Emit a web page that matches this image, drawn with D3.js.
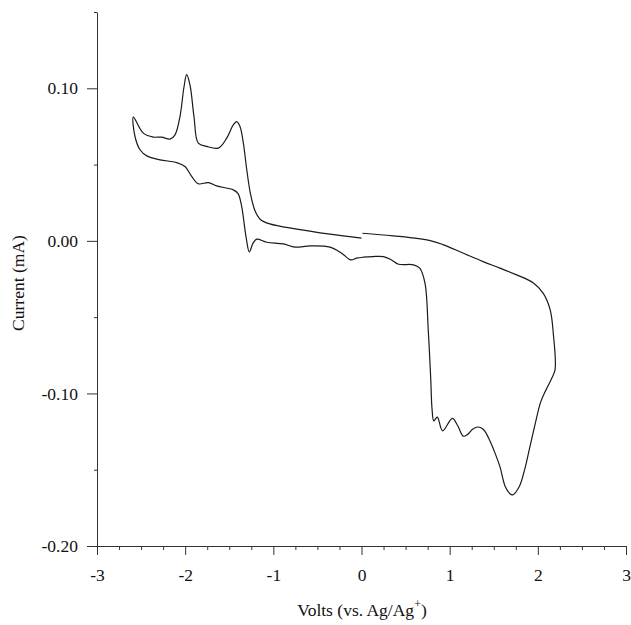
<!DOCTYPE html>
<html>
<head>
<meta charset="utf-8">
<script src="https://cdn.jsdelivr.net/npm/d3@7/dist/d3.min.js"></script>
<style>
  html, body { margin: 0; padding: 0; background: #fff; }
  svg text { font-family: "Liberation Serif", "Times New Roman", serif; fill: #111; }
</style>
</head>
<body>
<div id="chart"></div>
<script>
// scan from 0 V up to +2.2 V
const fwdVolts   = [0.01, 0.36, 0.78, 0.93, 1.15, 1.38, 1.57, 1.76, 1.95, 2.06, 2.14, 2.175, 2.195];
const fwdCurrent = [0.0050, 0.0033, 0.0002, -0.0026, -0.0080, -0.0136, -0.0179, -0.0223, -0.0276, -0.0343, -0.0452, -0.0605, -0.0846];

// reverse scan, +2.2 V down to -2.6 V
const revVolts = [2.195, 2.15, 2.09, 2.03, 1.97, 1.91, 1.85, 1.79, 1.714, 1.68, 1.63, 1.57, 1.50, 1.44, 1.38,
  1.32, 1.26, 1.20, 1.155, 1.09, 1.03, 0.92, 0.86, 0.82, 0.80, 0.785, 0.757, 0.72, 0.66, 0.59, 0.42, 0.34, 0.25, 0.13, 0.02,
  -0.055, -0.12, -0.225, -0.357, -0.584, -0.754, -0.887, -1.076, -1.189, -1.23, -1.272, -1.31,
  -1.359, -1.40, -1.454, -1.643, -1.738, -1.851, -1.926, -2.002, -2.096, -2.285, -2.436, -2.512, -2.569, -2.588];
const revCurrent = [-0.0846, -0.091, -0.098, -0.106, -0.120, -0.135, -0.150, -0.161, -0.1665, -0.1655, -0.161, -0.148, -0.137, -0.129, -0.1235,
  -0.122, -0.1235, -0.127, -0.128, -0.121, -0.1163, -0.1245, -0.1155, -0.118, -0.11, -0.09, -0.0584, -0.0277, -0.0179, -0.0157, -0.0153, -0.0125, -0.0103, -0.0103, -0.0107,
  -0.0113, -0.0125, -0.0081, -0.0041, -0.0033, -0.0041, -0.0020, -0.0009, 0.0011, -0.0015, -0.0072, 0.0028,
  0.0225, 0.031, 0.0334, 0.036, 0.0382, 0.0374, 0.0422, 0.0487, 0.0513, 0.0531, 0.0557, 0.0597, 0.0684, 0.0811];

// return scan, -2.6 V back to 0 V
const retVolts = [-2.588, -2.475, -2.361, -2.267, -2.172, -2.115, -2.059, -2.013, -1.983, -1.945, -1.90, -1.851,
  -1.757, -1.624, -1.529, -1.454, -1.416, -1.378, -1.34, -1.30, -1.26, -1.21, -1.15, -1.04, -0.735, -0.357, 0.0];
const retCurrent = [0.0811, 0.0706, 0.068, 0.068, 0.0667, 0.0695, 0.0815, 0.101, 0.1089, 0.102, 0.0815, 0.064,
  0.0619, 0.0608, 0.0673, 0.0761, 0.0782, 0.075, 0.064, 0.046, 0.031, 0.020, 0.0142, 0.0111, 0.0077, 0.0044, 0.0018];

const xMajor = [-3, -2, -1, 0, 1, 2, 3];
const yMajor = [-0.20, -0.10, 0.00, 0.10];
const yMinor = [-0.15, -0.05, 0.05, 0.15];

const width = 631, height = 625;
const svg = d3.select("#chart").append("svg").attr("width", width).attr("height", height);

const x = d3.scaleLinear().domain([-3, 3]).range([97, 626]);
const y = d3.scaleLinear().domain([-0.2, 0.15]).range([546, 12]);

const xMinor = d3.range(-3, 3.001, 0.25).filter(v => Math.abs(v - Math.round(v)) > 1e-6);
// plain hyphen minus, like the original
const hy = f => d => f(d).replace("\u2212", "-");

// minor ticks first
svg.append("g").attr("transform", "translate(0,546)")
  .call(d3.axisBottom(x).tickValues(xMinor).tickSize(4).tickFormat(""))
  .call(g => g.select(".domain").remove());
svg.append("g").attr("transform", "translate(97,0)")
  .call(d3.axisLeft(y).tickValues(yMinor).tickSize(3).tickFormat(""))
  .call(g => g.select(".domain").remove());

svg.append("g").attr("transform", "translate(0,546)")
  .call(d3.axisBottom(x).tickValues(xMajor).tickSize(9).tickSizeOuter(0).tickPadding(14).tickFormat(hy(d3.format("d"))));
svg.append("g").attr("transform", "translate(97,0)")
  .call(d3.axisLeft(y).tickValues(yMajor).tickSize(10).tickSizeOuter(0).tickPadding(9).tickFormat(hy(d3.format(".2f"))));

svg.selectAll(".tick line, .domain").attr("stroke", "#333");
svg.selectAll(".tick text").attr("font-size", 17.5).attr("fill", "#111")
  .style("font-family", '"Liberation Serif", "Times New Roman", serif');

// curve
const line = d3.line()
  .x(d => x(d[0])).y(d => y(d[1]))
  .curve(d3.curveCatmullRom.alpha(0.5));

const fwd = fwdVolts.map((v, i) => [v, fwdCurrent[i]]);
const rev = revVolts.map((v, i) => [v, revCurrent[i]]);
const ret = retVolts.map((v, i) => [v, retCurrent[i]]);

svg.append("path").datum(fwd.concat(rev.slice(1)).concat(ret.slice(1)))
  .attr("d", line).attr("fill", "none")
  .attr("stroke", "#1a1a1a").attr("stroke-width", 1.2);

// axis titles
const xt = svg.append("text").attr("x", 362).attr("y", 616)
  .attr("text-anchor", "middle").attr("font-size", 17.5);
xt.append("tspan").text("Volts (vs. Ag/Ag");
xt.append("tspan").attr("dy", -8).attr("font-size", 12).text("+");
xt.append("tspan").attr("dy", 8).text(")");

svg.append("text")
  .attr("transform", "translate(24,283) rotate(-90)")
  .attr("text-anchor", "middle").attr("font-size", 17.5)
  .text("Current (mA)");
</script>
</body>
</html>
